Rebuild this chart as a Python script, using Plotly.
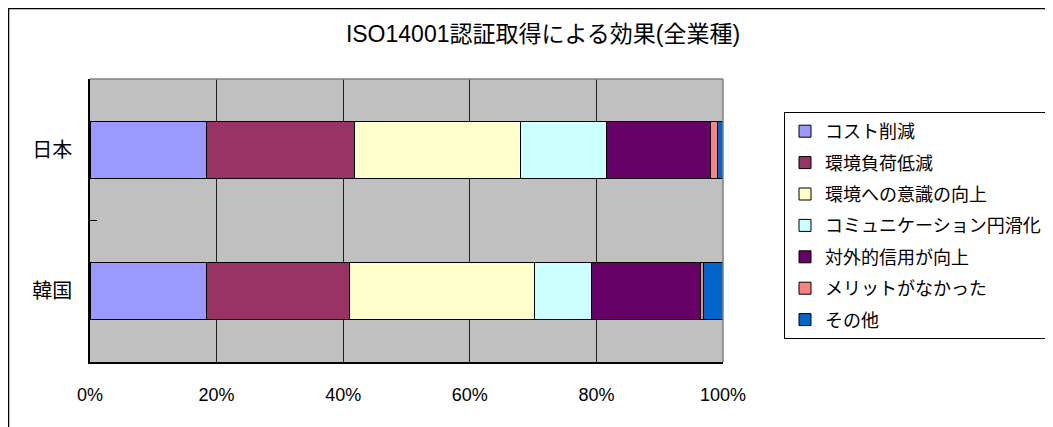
import plotly.graph_objects as go

categories = ["日本", "韓国"]
series_names = ["コスト削減", "環境負荷低減", "環境への意識の向上", "コミュニケーション円滑化",
                "対外的信用が向上", "メリットがなかった", "その他"]
japan = [18.4, 23.4, 26.2, 13.6, 16.4, 1.2, 0.8]
korea = [18.4, 22.65, 29.15, 9.1, 17.1, 0.55, 3.05]
colors = ["#9999FF", "#993366", "#FFFFCC", "#CCFFFF", "#660066", "#FF8080", "#0066CC"]
x_ticks = [0, 20, 40, 60, 80, 100]
x_tick_labels = ["0%", "20%", "40%", "60%", "80%", "100%"]
title_text = "ISO14001認証取得による効果(全業種)"

FONT = "Liberation Sans, Noto Sans CJK JP, sans-serif"
CJK = "Noto Sans CJK JP, Liberation Sans, sans-serif"

fig = go.Figure()
for i, name in enumerate(series_names):
    fig.add_trace(go.Bar(
        y=categories, x=[japan[i], korea[i]], name=name, orientation="h",
        marker=dict(color=colors[i], line=dict(color="#000000", width=1)),
        legendgroup=name,
    ))

# page body has an 8px offset; figure coordinates = viewport - 8
OFF = 8
W, H = 1053 - OFF, 427 - OFF
L, T = 90 - OFF, 79 - OFF
R = W - (723 - OFF)
B = H - (362 - OFF)
pw, ph = W - L - R, H - T - B

def px_x(v):
    return (v - OFF - L) / pw

def px_y(v):
    return (H - B - (v - OFF)) / ph

fig.update_layout(
    width=W, height=H,
    margin=dict(l=L, r=R, t=T, b=B, autoexpand=False),
    barmode="stack", bargap=0.6,
    paper_bgcolor="#FFFFFF", plot_bgcolor="#C0C0C0",
    font=dict(family=CJK, size=19, color="#000000"),
    title=dict(text=title_text, x=(543 - OFF) / W, xanchor="center", y=1 - (37 - OFF - 3) / H,
               yanchor="middle",
               font=dict(family=FONT, size=23, color="#000000")),
    xaxis=dict(range=[0, 100], tickvals=x_ticks, ticktext=x_tick_labels,
               showgrid=True, gridcolor="#202020", gridwidth=1,
               showline=True, linecolor="#000000", linewidth=1.5, mirror=False,
               ticks="", ticklabelstandoff=16, zeroline=False, automargin=False,
               tickfont=dict(family=FONT, size=18, color="#000000"), fixedrange=True),
    yaxis=dict(autorange="reversed", showline=True, linecolor="#000000", linewidth=1.5,
               ticks="inside", ticklen=7, tickcolor="#000000", tickson="boundaries",
               showgrid=False, tickfont=dict(family=CJK, size=20, color="#000000"),
               ticklabelstandoff=12, fixedrange=True, automargin=False),
    legend=dict(x=px_x(784), y=px_y(112), xanchor="left", yanchor="top",
                bordercolor="#000000", borderwidth=1, bgcolor="#FFFFFF",
                traceorder="grouped", tracegroupgap=5,
                font=dict(family=CJK, size=18, color="#000000"),
                itemwidth=30),
    showlegend=True,
)

# plot area top/right border (gray)
fig.add_shape(type="line", xref="paper", yref="paper", x0=0, x1=1, y0=1, y1=1,
              line=dict(color="#808080", width=1.5))
fig.add_shape(type="line", xref="paper", yref="paper", x0=1, x1=1, y0=0, y1=1,
              line=dict(color="#808080", width=1.5))
# chart frame
fig.add_shape(type="rect", xref="paper", yref="paper",
              x0=px_x(8.5), x1=px_x(1070), y0=px_y(8.5), y1=px_y(460),
              line=dict(color="#000000", width=1.5), layer="below")

fig.write_html("out.html")
